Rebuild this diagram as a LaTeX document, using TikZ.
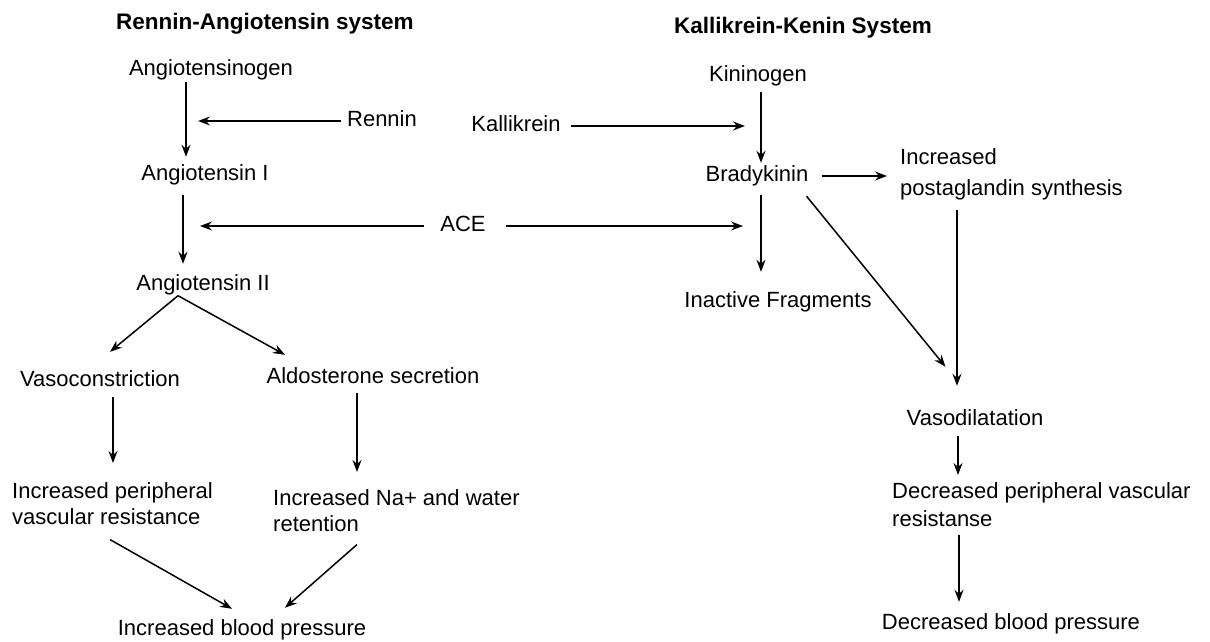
\documentclass[tikz,border=0pt]{standalone}
\usepackage{fontspec}
\setmainfont{Liberation Sans}
\usetikzlibrary{arrows.meta}
\begin{document}
\begin{tikzpicture}[x=1pt,y=-1pt,
  lbl/.style={inner sep=0pt, font=\fontsize{22}{26}\selectfont, text height=16pt, text depth=5pt},
  multi/.style={inner sep=0pt, font=\fontsize{22}{26}\selectfont, align=left, anchor=north west},
  ttl/.style={inner sep=0pt, font=\fontsize{22.5}{27}\selectfont\bfseries},
  arr/.style={line width=1.5pt, -{Stealth[length=12pt,width=9pt,inset=4pt]}}]
\useasboundingbox (0,0) rectangle (1210,642);
\fill[white] (0,0) rectangle (1210,642);

% column references for the vertical and slanted connectors
\coordinate (xA) at (186,0);
\coordinate (xB) at (183,0);
\coordinate (xC) at (178,0);
\coordinate (xD) at (110,0);
\coordinate (xE) at (285,0);
\coordinate (xF) at (113,0);
\coordinate (xG) at (357,0);
\coordinate (xM) at (232,0);
\coordinate (xH) at (761,0);
\coordinate (xJ) at (957,0);
\coordinate (xK) at (958,0);
\coordinate (xL) at (959,0);

% free ends of the enzyme arrows
\coordinate (renninTip) at (198,121);
\coordinate (aceLeftTip) at (200,226);
\coordinate (aceRightTip) at (743,226);
\coordinate (kalTip) at (745,126);

% renin-angiotensin branch
\node[ttl] (rtitle) at (265,24) {Rennin-Angiotensin system};
\node[lbl] (ang0) at (211,70) {Angiotensinogen};
\node[lbl] (rennin) at (382,121) {Rennin};
\node[lbl] (ang1) at (205,175) {Angiotensin I};
\node[lbl] (ace) at (463,226) {ACE};
\node[lbl] (ang2) at (203,285) {Angiotensin II};
\node[lbl] (vaso) at (100,381) {Vasoconstriction};
\node[lbl] (aldo) at (373,378) {Aldosterone secretion};
\node[multi] (ipvr) at (12,482) {Increased peripheral\\vascular resistance};
\node[multi] (ina) at (273,489) {Increased Na+ and water\\retention};
\node[lbl] (ibp) at (242,630) {Increased blood pressure};

% kallikrein-kinin branch
\node[ttl] (ktitle) at (803,28) {Kallikrein-Kenin System};
\node[lbl] (kin) at (758,76) {Kininogen};
\node[lbl] (kal) at (516,126) {Kallikrein};
\node[lbl] (brad) at (757,176) {Bradykinin};
\node[multi, font=\fontsize{22}{31}\selectfont] (ips) at (900,148) {Increased\\postaglandin synthesis};
\node[lbl] (inact) at (778,302) {Inactive Fragments};
\node[lbl] (vasod) at (975,420) {Vasodilatation};
\node[multi, font=\fontsize{22}{28}\selectfont] (dpvr) at (892,482) {Decreased peripheral vascular\\resistanse};
\node[lbl] (dbp) at (1011,624) {Decreased blood pressure};

% connectors, left side
\draw[arr] ([yshift=-1.5pt]ang0.south -| xA) -- ([yshift=7.5pt]ang1.north -| xA);
\draw[arr] ([xshift=-6pt]rennin.west) -- (renninTip);
\draw[arr] ([yshift=-9.5pt]ang1.south -| xB) -- ([yshift=10.5pt]ang2.north -| xB);
\draw[arr] ([xshift=-16pt]ace.west) -- (aceLeftTip);
\draw[arr] ([xshift=20pt]ace.east) -- (aceRightTip);
\draw[arr] (ang2.south -| xC) -- ([yshift=18.5pt]vaso.north -| xD);
\draw[arr] (ang2.south -| xC) -- ([yshift=12.5pt]aldo.north -| xE);
\draw[arr] ([yshift=-5.5pt]vaso.south -| xF) -- ([yshift=19pt]ipvr.north -| xF);
\draw[arr] ([yshift=-4.5pt]aldo.south -| xG) -- ([yshift=17pt]ina.north -| xG);
\draw[arr] ([yshift=-15pt]ipvr.south -| xD) -- ([yshift=10.5pt]ibp.north -| xM);
\draw[arr] ([yshift=-13pt]ina.south -| xG) -- ([yshift=11.5pt]ibp.north -| xE);

% connectors, right side
\draw[arr] ([xshift=10pt]kal.east) -- (kalTip);
\draw[arr] ([yshift=-5.5pt]kin.south -| xH) -- ([yshift=2.5pt]brad.north -| xH);
\draw[arr] ([xshift=13pt]brad.east) -- ([xshift=-13pt]ips.west |- brad.east);
\draw[arr] ([yshift=-8.5pt]brad.south -| xH) -- ([yshift=19.5pt]inact.north -| xH);
\draw[arr] ([shift={(-2pt,-9.5pt)}]brad.south east) -- ([shift={(39pt,42.5pt)}]vasod.north west);
\draw[arr] ([yshift=-10pt]ips.south -| xJ) -- ([yshift=23.5pt]vasod.north -| xJ);
\draw[arr] ([yshift=-5.5pt]vasod.south -| xK) -- ([yshift=7pt]dpvr.north -| xK);
\draw[arr] ([yshift=-8pt]dpvr.south -| xL) -- ([yshift=11.5pt]dbp.north -| xL);
\end{tikzpicture}
\end{document}
